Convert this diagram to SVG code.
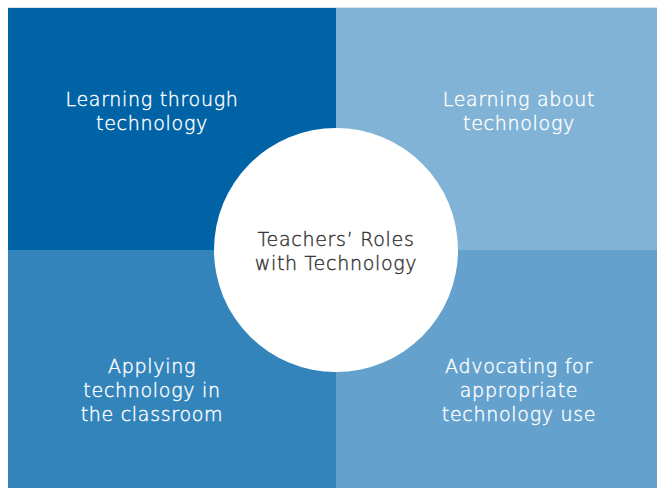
<svg xmlns="http://www.w3.org/2000/svg" width="657" height="488" viewBox="0 0 657 488">
  <style>
    .lbl { font-family: "DejaVu Sans", "Liberation Sans", sans-serif; font-size: 19px; font-weight: 300; letter-spacing: 0.7px; text-anchor: middle; fill: #ffffff; stroke: #ffffff; stroke-width: 0.4px; }
    .hub { fill: #333333; stroke: #333333; }
  </style>
  <rect width="657" height="488" fill="#ffffff"/>
  <line x1="8" y1="7.5" x2="657" y2="7.5" stroke="#d9e4ee" stroke-width="1"/>

  <g id="learning-through">
    <rect x="8" y="8" width="328" height="242" fill="#0063a6"/>
    <text class="lbl" x="152" y="106"><tspan x="152">Learning through</tspan><tspan x="152" dy="24">technology</tspan></text>
  </g>
  <g id="learning-about">
    <rect x="336" y="8" width="321" height="242" fill="#80b3d5"/>
    <text class="lbl" x="519" y="106"><tspan x="519">Learning about</tspan><tspan x="519" dy="24">technology</tspan></text>
  </g>
  <g id="applying">
    <rect x="8" y="250" width="328" height="238" fill="#3484bc"/>
    <text class="lbl" x="152" y="373"><tspan x="152">Applying</tspan><tspan x="152" dy="24">technology in</tspan><tspan x="152" dy="24">the classroom</tspan></text>
  </g>
  <g id="advocating">
    <rect x="336" y="250" width="321" height="238" fill="#64a2cd"/>
    <text class="lbl" x="519" y="373"><tspan x="519">Advocating for</tspan><tspan x="519" dy="24">appropriate</tspan><tspan x="519" dy="24">technology use</tspan></text>
  </g>

  <g id="hub">
    <circle cx="336" cy="250" r="122" fill="#ffffff"/>
    <text class="lbl hub" x="336" y="246"><tspan x="336">Teachers’ Roles</tspan><tspan x="336" dy="24">with Technology</tspan></text>
  </g>

  <g id="connectors"></g>
</svg>
